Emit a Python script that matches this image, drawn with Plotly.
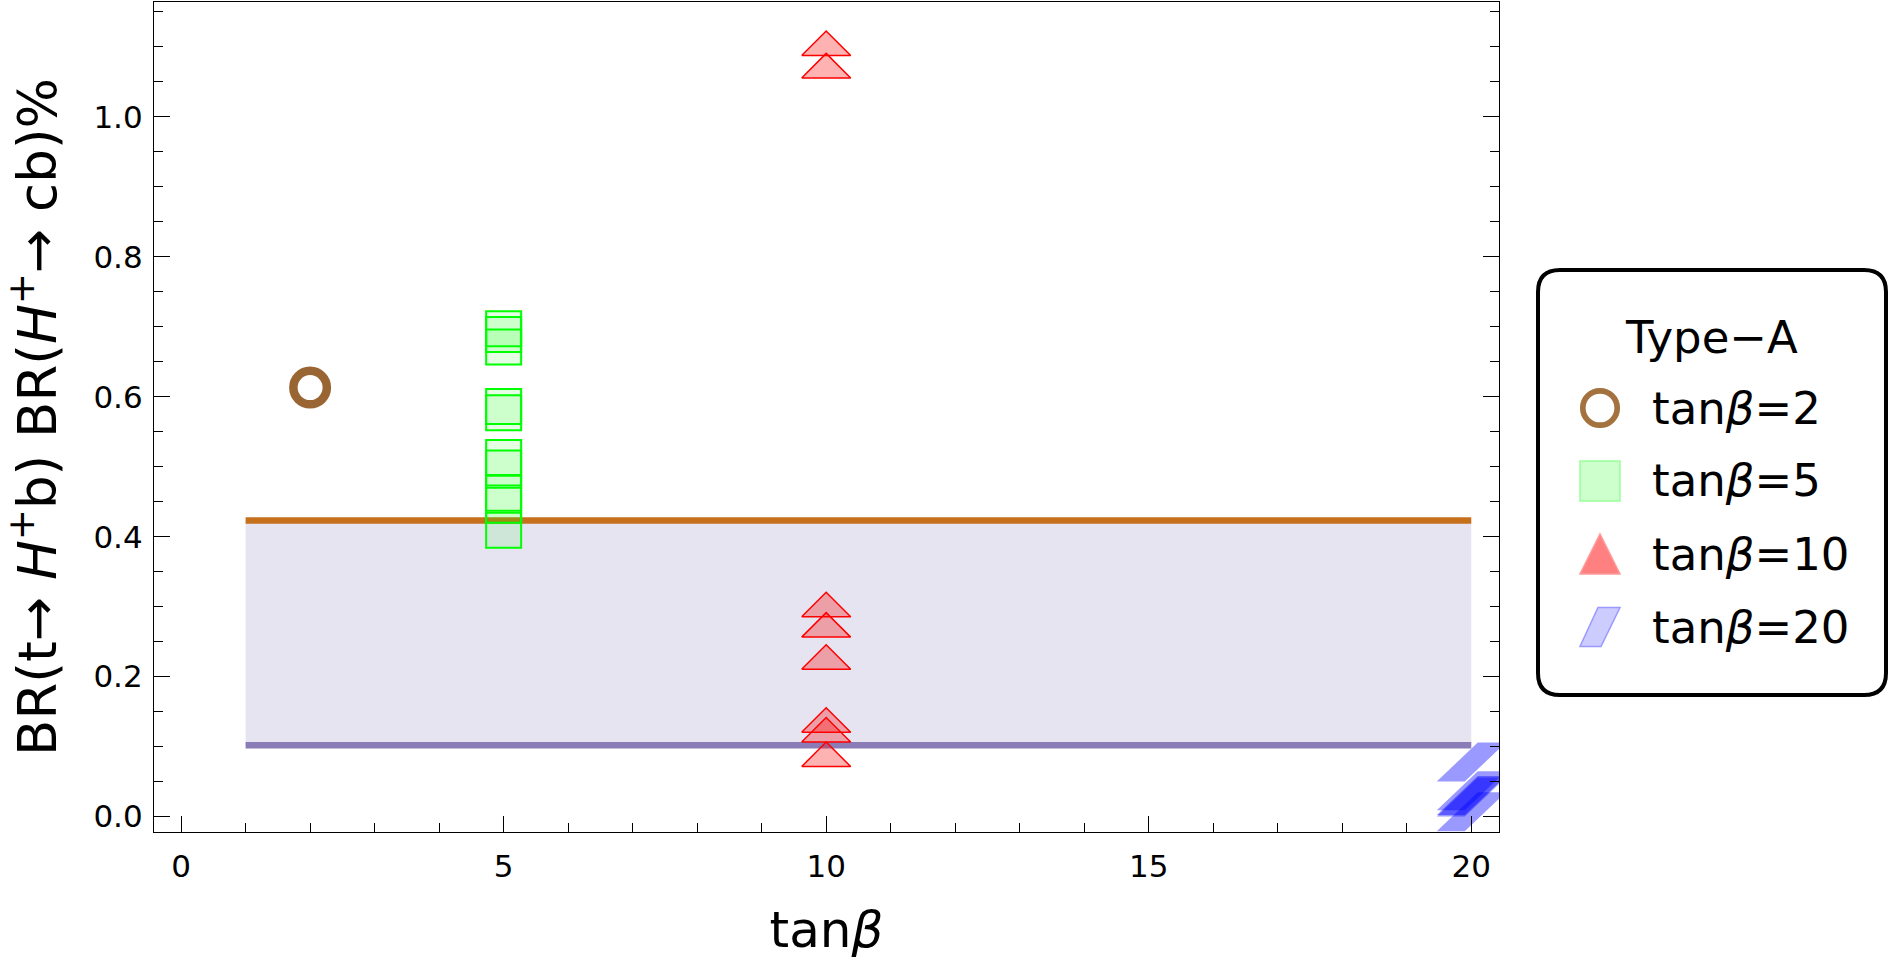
import plotly.graph_objects as go

# ---------------- data ----------------
tanb2_x = [2]
tanb2_y = [0.613]

tanb5_x = [5, 5, 5, 5, 5, 5, 5, 5, 5, 5]
tanb5_y = [0.697, 0.689, 0.671, 0.586, 0.577, 0.513, 0.498, 0.462, 0.445, 0.409]

tanb10_x = [10, 10, 10, 10, 10, 10, 10, 10]
tanb10_y = [1.105, 1.073, 0.303, 0.274, 0.228, 0.138, 0.124, 0.089]

tanb20_x = [20, 20, 20, 20, 20]
tanb20_y = [0.078, 0.037, 0.030, 0.028, 0.007]

band_x = [1, 20]
band_upper = [0.423, 0.423]
band_lower = [0.102, 0.102]

x_ticks = [0, 5, 10, 15, 20]
y_ticks = [0.0, 0.2, 0.4, 0.6, 0.8, 1.0]
y_ticktext = ["0.0", "0.2", "0.4", "0.6", "0.8", "1.0"]

legend_title = "Type\u2212A"
legend_labels = ["tan<i>\u03b2</i>=2", "tan<i>\u03b2</i>=5", "tan<i>\u03b2</i>=10", "tan<i>\u03b2</i>=20"]

# ---------------- geometry / style ----------------
W, H = 1893, 977
PL, PR, PT, PB = 154, 1499, 2, 832
X_RANGE = [-0.42, 20.43]
Y_RANGE = [-0.022, 1.164]
FONT = "DejaVu Sans"

DX = (X_RANGE[1] - X_RANGE[0]) / (PR - PL)   # data units per pixel
DY = (Y_RANGE[1] - Y_RANGE[0]) / (PB - PT)


def px(x):
    return (x - PL) / (PR - PL)


def py(y):
    return (PB - y) / (PB - PT)


fig = go.Figure()

# band fill
fig.add_trace(go.Scatter(
    x=[band_x[0], band_x[1], band_x[1], band_x[0], band_x[0]],
    y=[band_lower[0], band_lower[1], band_upper[1], band_upper[0], band_lower[0]],
    mode="lines", fill="toself", fillcolor="rgb(230,228,240)",
    line=dict(width=0, color="rgba(0,0,0,0)"), hoverinfo="skip", showlegend=False))
fig.add_trace(go.Scatter(x=band_x, y=band_lower, mode="lines",
                         line=dict(color="#8A7CB6", width=6.5), showlegend=False))
fig.add_trace(go.Scatter(x=band_x, y=band_upper, mode="lines",
                         line=dict(color="#C6701C", width=6.5), showlegend=False))

# tanb = 2 : open circle
fig.add_trace(go.Scatter(x=tanb2_x, y=tanb2_y, mode="markers", showlegend=False,
                         marker=dict(symbol="circle-open", size=33.5, color="#996633",
                                     line=dict(width=8.5, color="#996633"))))

# tanb = 5 : squares
fig.add_trace(go.Scatter(x=tanb5_x, y=tanb5_y, mode="markers", showlegend=False,
                         marker=dict(symbol="square", size=35, color="rgba(0,255,0,0.1)",
                                     line=dict(width=2, color="#00FF00"))))

# tanb = 10 : flat triangles
TW, TH = 24.5, 12.25  # half width / half height in px
for xv, yv in zip(tanb10_x, tanb10_y):
    hw, hh = TW * DX, TH * DY
    fig.add_trace(go.Scatter(
        x=[xv - hw, xv + hw, xv, xv - hw], y=[yv - hh, yv - hh, yv + hh, yv - hh],
        mode="lines", fill="toself", fillcolor="rgba(255,0,0,0.3)",
        line=dict(color="#FF0000", width=1.5), showlegend=False))

# tanb = 20 : parallelograms
for xv, yv in zip(tanb20_x, tanb20_y):
    xs_px = [-34.5, -6.5, 34.5, 6.5, -34.5]
    ys_px = [-19.5, -19.5, 19.5, 19.5, -19.5]
    fig.add_trace(go.Scatter(
        x=[xv + a * DX for a in xs_px], y=[yv + b * DY for b in ys_px],
        mode="lines", fill="toself", fillcolor="rgba(0,0,255,0.4)",
        line=dict(color="rgba(0,0,255,0)", width=0), showlegend=False))

# ---------------- legend (drawn) ----------------
shapes = []
annotations = []
LX0, LX1, LY0, LY1, R = 1538, 1886, 270, 695, 22


def rr_path(x0, y0, x1, y1, r):
    pts = [
        ("M", [(x0 + r, y0)]),
        ("L", [(x1 - r, y0)]), ("Q", [(x1, y0), (x1, y0 + r)]),
        ("L", [(x1, y1 - r)]), ("Q", [(x1, y1), (x1 - r, y1)]),
        ("L", [(x0 + r, y1)]), ("Q", [(x0, y1), (x0, y1 - r)]),
        ("L", [(x0, y0 + r)]), ("Q", [(x0, y0), (x0 + r, y0)]),
    ]
    s = ""
    for cmd, ps in pts:
        s += cmd + " " + " ".join(f"{px(a):.5f},{py(b):.5f}" for a, b in ps) + " "
    return s + "Z"


shapes.append(dict(type="path", xref="paper", yref="paper", path=rr_path(LX0, LY0, LX1, LY1, R),
                   line=dict(color="black", width=4), fillcolor="white", layer="above"))

title_y = 337
rows_y = [408, 481, 554, 627]
icon_x = 1600
text_x = 1650

annotations.append(dict(x=px((LX0 + LX1) / 2), y=py(title_y), xref="paper", yref="paper",
                        text=legend_title, showarrow=False, xanchor="center", yanchor="middle",
                        font=dict(family=FONT, size=45, color="black")))
for lab, ry in zip(legend_labels, rows_y):
    annotations.append(dict(x=px(text_x), y=py(ry), xref="paper", yref="paper", text=lab,
                            showarrow=False, xanchor="left", yanchor="middle",
                            font=dict(family=FONT, size=45, color="black")))

# circle icon
r_c = 17.2
shapes.append(dict(type="circle", xref="paper", yref="paper",
                   x0=px(icon_x - r_c), x1=px(icon_x + r_c), y0=py(rows_y[0] + r_c), y1=py(rows_y[0] - r_c),
                   line=dict(color="#A3723F", width=5.7), fillcolor="rgba(0,0,0,0)", layer="above"))
# square icon
shapes.append(dict(type="rect", xref="paper", yref="paper",
                   x0=px(icon_x - 20), x1=px(icon_x + 20), y0=py(rows_y[1] + 20), y1=py(rows_y[1] - 20),
                   line=dict(color="#99FF99", width=1.5), fillcolor="#CCFFCC", layer="above"))


def poly_path(points):
    s = "M " + " L ".join(f"{px(a):.5f},{py(b):.5f}" for a, b in points)
    return s + " Z"


ty = rows_y[2]
shapes.append(dict(type="path", xref="paper", yref="paper",
                   path=poly_path([(icon_x - 20, ty + 20), (icon_x + 20, ty + 20), (icon_x, ty - 20)]),
                   line=dict(color="#FF9999", width=1.5), fillcolor="#FF8080", layer="above"))
pyy = rows_y[3]
shapes.append(dict(type="path", xref="paper", yref="paper",
                   path=poly_path([(icon_x - 20, pyy + 19.5), (icon_x + 1, pyy + 19.5),
                                   (icon_x + 20, pyy - 19.5), (icon_x - 2, pyy - 19.5)]),
                   line=dict(color="#9999FF", width=1.5), fillcolor="#CCCCFF", layer="above"))

# ---------------- layout ----------------
axis_common = dict(showgrid=False, zeroline=False, showline=True, linecolor="black", linewidth=1.2,
                   ticks="inside", ticklen=16, tickwidth=1, tickcolor="black",
                   tickfont=dict(family=FONT, size=31, color="black"))

fig.update_layout(
    width=W, height=H, autosize=False,
    margin=dict(l=PL, r=W - PR, t=PT, b=H - PB),
    plot_bgcolor="white", paper_bgcolor="white",
    font=dict(family=FONT, color="black"),
    showlegend=False,
    xaxis=dict(range=X_RANGE, tickvals=x_ticks, mirror=True, ticklabelstandoff=7,
               minor=dict(dtick=1, tick0=0, ticks="inside", ticklen=9, tickcolor="black", tickwidth=1),
               title=dict(text="tan<i>\u03b2</i>", font=dict(family=FONT, size=50, color="black"), standoff=28),
               **axis_common),
    yaxis=dict(range=Y_RANGE, tickvals=y_ticks, ticktext=y_ticktext, mirror="ticks", ticklabelstandoff=4,
               minor=dict(dtick=0.05, tick0=0, ticks="inside", ticklen=9, tickcolor="black", tickwidth=1),
               title=dict(text="BR(t\u2192 <i>H</i><sup>+</sup>b) BR(<i>H</i><sup>+</sup>\u2192 cb)%",
                          font=dict(family=FONT, size=53, color="black"), standoff=24),
               **axis_common),
    shapes=shapes,
    annotations=annotations,
)

fig.write_html("out.html")
